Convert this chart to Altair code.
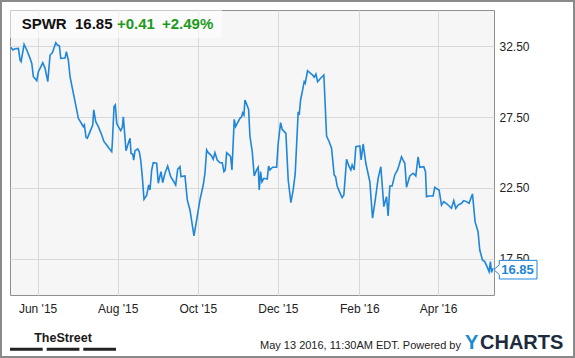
import altair as alt
import pandas as pd

# ---- data (days since 2015-05-11, closing price) ----
day_offsets = [0.84, 2.13, 3.88, 6.39, 7.69, 8.45, 10.73, 12.78, 15.30, 16.59, 17.81, 20.39,
               21.61, 22.91, 24.96, 26.71, 28.77, 30.52, 32.27, 34.85, 36.07, 37.59, 38.66,
               41.93, 42.92, 44.44, 45.73, 48.25, 50.30, 52.05, 54.64, 55.86, 56.62, 57.91,
               58.90, 60.95, 63.01, 63.77, 65.29, 67.27, 69.86, 71.61, 73.66, 75.41, 77.47,
               77.92, 79.22, 80.21, 81.27, 82.49, 84.32, 85.53, 86.30, 88.35, 90.10, 91.40,
               92.16, 93.45, 94.21, 95.20, 97.25, 98.47, 99.54, 100.75, 102.05, 104.10,
               105.62, 106.61, 107.91, 109.12, 111.71, 112.93, 114.98, 116.28, 118.03,
               120.08, 122.37, 124.34, 126.17, 127.69, 129.44, 130.20, 133.25, 135.00,
               137.05, 140.10, 142.15, 144.66, 147.17, 148.47, 149.76, 150.98, 153.56,
               154.78, 156.07, 157.83, 159.88, 161.63, 162.93, 163.92, 164.98, 166.96,
               168.03, 169.02, 170.77, 171.83, 175.10, 176.40, 177.16, 178.15, 178.91,
               180.20, 181.72, 182.71, 184.46, 185.98, 187.81, 189.03, 189.79, 190.85,
               191.84, 193.36, 195.87, 196.94, 197.93, 199.98, 203.03, 204.25, 206.07,
               207.29, 210.11, 211.86, 213.91, 215.66, 217.19, 219.47, 220.23, 221.30,
               222.82, 224.03, 224.80, 226.62, 228.91, 230.43, 231.64, 232.94, 234.23,
               236.51, 239.02, 241.08, 243.06, 244.88, 246.86, 247.93, 249.14, 251.20,
               252.95, 254.24, 256.30, 258.05, 259.57, 260.56, 262.08, 263.38, 266.42,
               267.41, 268.93, 270.99, 274.03, 276.09, 278.22, 280.35, 282.40, 284.69,
               286.74, 287.96, 289.25, 291.00, 293.05, 295.11, 296.10, 298.15, 299.37,
               300.66, 301.96, 303.17, 304.47, 306.98, 309.03, 310.78, 312.08, 315.12,
               316.42, 317.18, 319.16, 322.20, 323.49, 325.55, 326.77, 328.59, 330.34,
               332.85, 336.20, 337.95, 339.47, 341.22, 343.81, 345.56, 347.61, 349.59,
               352.19, 354.16, 356.44, 357.74, 359.79, 361.54, 363.29, 364.81, 365.88,
               366.64, 367.86]
prices = [32.41, 32.22, 32.31, 32.33, 31.51, 31.40, 32.62, 32.22, 31.63, 31.28, 30.34, 30.06,
          30.69, 30.93, 31.33, 30.93, 29.99, 31.87, 32.03, 32.73, 32.57, 32.52, 31.63,
          31.65, 32.10, 31.51, 30.34, 29.17, 28.23, 27.41, 27.01, 26.82, 26.94, 26.07,
          26.00, 26.47, 26.94, 28.00, 27.17, 26.82, 26.23, 25.76, 25.53, 25.30, 25.06,
          25.65, 28.23, 28.35, 27.06, 26.82, 26.54, 26.77, 27.52, 25.13, 25.65, 26.00,
          24.94, 24.89, 24.47, 25.13, 25.25, 25.06, 24.47, 23.30, 21.70, 22.00,
          22.71, 22.36, 23.77, 24.28, 24.24, 22.83, 23.65, 22.87, 23.54,
          24.05, 23.30, 23.01, 22.71, 23.82, 24.00, 23.30, 23.35, 21.66,
          20.95, 19.12, 20.25, 21.66, 22.71, 23.54, 25.18, 24.99, 24.75,
          24.52, 24.99, 24.47, 24.28, 24.28, 23.65, 23.77, 24.99, 24.82,
          24.70, 23.77, 27.34, 26.82, 27.41, 27.52, 27.80, 27.64, 28.70,
          28.42, 28.04, 26.16, 25.06, 23.35, 23.77, 23.96, 22.36, 23.65,
          22.94, 23.18, 23.13, 24.05, 23.77, 23.96, 23.96, 25.65, 27.10,
          26.63, 26.35, 23.06, 21.47, 22.36, 23.49, 27.87, 27.64, 28.70,
          29.40, 29.99, 29.87, 30.76, 30.58, 30.46, 30.30, 30.53, 29.99,
          30.23, 30.46, 26.16, 25.76, 25.30, 23.42, 23.30, 22.64, 22.17,
          21.82, 22.00, 24.52, 24.05, 23.77, 24.12, 23.77, 25.41, 25.46,
          24.47, 25.60, 24.24, 22.94, 20.37, 21.70, 23.18, 24.00, 21.19,
          21.89, 20.53, 22.64, 22.64, 23.42, 23.77, 24.05, 24.70, 24.47,
          24.24, 22.55, 22.94, 23.35, 23.54, 23.35, 24.70, 23.96, 24.00,
          23.65, 21.89, 21.94, 21.94, 22.55, 22.41, 22.36, 21.30, 21.54,
          21.37, 21.07, 21.61, 21.07, 21.30, 21.42, 21.61, 21.54, 21.42,
          22.08, 20.13, 19.42, 18.13, 17.43, 17.31, 16.96, 16.61, 17.31,
          16.55, 16.85]

ticker = "SPWR"
last_price = "16.85"
change_abs = "+0.41"
change_pct = "+2.49%"
y_ticks = [17.5, 22.5, 27.5, 32.5]
x_tick_months = [(2015, 6), (2015, 8), (2015, 10), (2015, 12), (2016, 2), (2016, 4)]
footer_text = "May 13 2016, 11:30AM EDT. Powered by"

start = pd.Timestamp("2015-05-11")
dates = [(start + pd.to_timedelta(d, unit="D")).strftime("%Y-%m-%dT%H:%M:%S") for d in day_offsets]
df = pd.DataFrame({"date": dates, "price": prices})
last_df = df.tail(1).copy()
last_df["label"] = last_price

W, H = 484, 285
FONT = "Liberation Sans"
BLUE = "#1f86d8"
GREEN = "#1c9a1c"

xscale = alt.Scale(domain=[alt.DateTime(year=2015, month=5, date=11),
                           alt.DateTime(year=2016, month=5, date=13, hours=14)])
yscale = alt.Scale(domain=[14.96, 35.04], nice=False, zero=False)

x_axis = alt.Axis(values=[alt.DateTime(year=y, month=m, date=1) for y, m in x_tick_months],
                  format="%b '%y", title=None, ticks=False, domain=False, grid=True,
                  gridColor="#d9d9d9", labelFont=FONT, labelFontSize=12, labelColor="#222222",
                  labelPadding=8, labelBaseline="top")
y_axis = alt.Axis(values=y_ticks, format=".2f", orient="right", title=None, ticks=False,
                  domain=False, grid=True, gridColor="#d9d9d9", labelFont=FONT,
                  labelFontSize=12, labelColor="#222222", labelPadding=5)

one = pd.DataFrame({"a": [0]})

line = alt.Chart(df).mark_line(color=BLUE, strokeWidth=1.6).encode(
    x=alt.X("date:T", scale=xscale, axis=x_axis),
    y=alt.Y("price:Q", scale=yscale, axis=y_axis),
)

header_box = alt.Chart(one).mark_rect(fill="white", opacity=0.55).encode(
    x=alt.value(0), x2=alt.value(212), y=alt.value(0), y2=alt.value(28))

def txt(text, x, y, size, color, weight="normal", font=FONT, align="left"):
    return alt.Chart(one).mark_text(text=text, align=align, baseline="alphabetic",
                                    fontSize=size, fontWeight=weight, font=font,
                                    color=color).encode(x=alt.value(x), y=alt.value(y))

header = [
    txt(ticker, 11.7, 19.3, 15, "#111111", "bold"),
    txt(last_price, 65, 19.3, 15, "#111111", "bold"),
    txt(change_abs, 107, 19.3, 15, GREEN, "bold"),
    txt(change_pct, 152, 19.3, 15, GREEN, "bold"),
]

box_path = ("M -1 0 L -0.753 -0.233 L -0.753 -0.433 L 1 -0.433 L 1 0.433 "
            "L -0.753 0.433 L -0.753 0.233 Z")
last_box = alt.Chart(last_df).mark_point(shape=box_path, size=1849, filled=True,
                                          fill="white", stroke=BLUE, strokeWidth=1,
                                          opacity=1, yOffset=1.5).encode(
    x=alt.value(505.5), y=alt.Y("price:Q", scale=yscale))
last_text = alt.Chart(last_df).mark_text(align="center", baseline="middle", fontSize=13,
                                         fontWeight="bold", font=FONT, color=BLUE,
                                         yOffset=1.5).encode(
    x=alt.value(507.5), y=alt.Y("price:Q", scale=yscale), text="label:N")

frame = alt.Chart(one).mark_rect(fill=None, stroke="#8a8a8a", strokeWidth=2).encode(
    x=alt.value(-9), x2=alt.value(564), y=alt.value(-9), y2=alt.value(347))

bars = [alt.Chart(one).mark_rect(color="#222222").encode(
    x=alt.value(x0), x2=alt.value(x0 + 32.7), y=alt.value(337.7), y2=alt.value(340.7))
    for x0 in (0, 36.7, 73.3)]

footer = [
    txt("TheStreet", 53, 331.5, 12.5, "#1a1a1a", "bold", align="center"),
    txt(footer_text, 250, 339, 11, "#222222"),
    txt("Y", 455, 339.3, 20, "#1a8ad4", "bold"),
    txt("CHARTS", 470, 339.3, 20, "#1c2b3d", "bold"),
]

chart = alt.layer(frame, line, header_box, *header, last_box, last_text, *bars, *footer).properties(
    width=W, height=H, padding=0, background="white"
).configure_view(fill="#f6f6f6", stroke="#8f8f8f", strokeWidth=1)

chart.save("out.html", embed_options={"renderer": "svg", "actions": False})
